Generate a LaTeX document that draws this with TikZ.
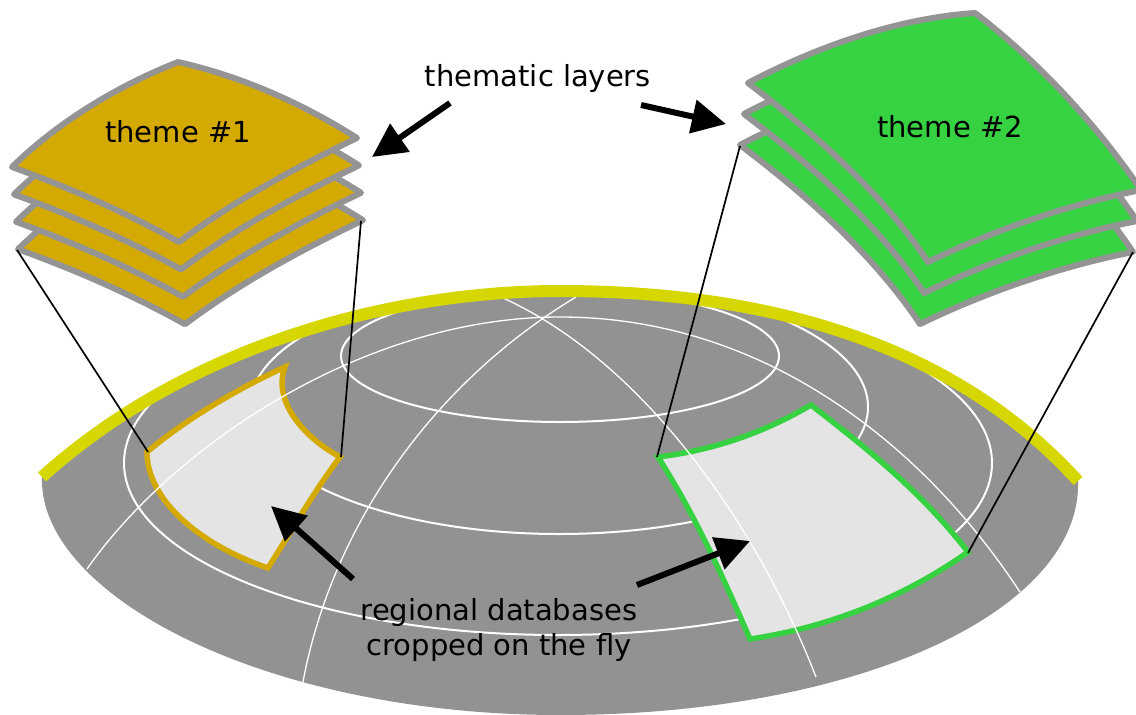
\documentclass[tikz,border=0pt]{standalone}
\usepackage{fontspec}
\setmainfont{DejaVu Sans}
\usetikzlibrary{arrows.meta}
\definecolor{domegrey}{HTML}{929292}
\definecolor{sheetedge}{HTML}{949494}
\definecolor{ochre}{HTML}{D4AA00}
\definecolor{leaf}{HTML}{37D242}
\definecolor{rimyellow}{HTML}{D6D600}
\definecolor{patchfill}{HTML}{E4E4E4}
\newcommand{\rimpath}{(42,477) .. controls (180,352) and (380,291) .. (560,291) .. controls (760,291) and (950,340) .. (1078,481)}
\tikzset{
  x=1pt,y=-1pt,
  sheetbase/.style={draw=sheetedge,line width=6pt,line join=round},
  ringline/.style={draw=white,line width=2pt},
  thinline/.style={draw=white,line width=1.3pt},
  patchbase/.style={fill=patchfill,line width=5.5pt,line join=miter},
  linkline/.style={draw=black,line width=1.7pt},
  bigarrow/.style={draw=black,line width=6pt,-{Triangle[length=34pt,width=33pt]}},
  label/.style={font=\fontsize{29}{35}\selectfont,text=black,inner sep=0pt,align=center}
}
\begin{document}
\begin{tikzpicture}
\useasboundingbox (0,0) rectangle (1136,715);
\clip (0,0) rectangle (1136,715);

% dome
\fill[domegrey] \rimpath .. controls (1082,610) and (860,715) .. (560,715)
  .. controls (265,715) and (38,595) .. (42,477) -- cycle;

% rings, clipped to the dome
\begin{scope}
\clip \rimpath -- (1136,715) -- (0,715) -- cycle;
\draw[ringline] (558,463) ellipse [x radius=434,y radius=172];
\draw[ringline] (559,407) ellipse [x radius=309,y radius=127];
\draw[ringline] (560,356) ellipse [x radius=219,y radius=66];
\end{scope}

% regional patches
\draw[patchbase,draw=ochre] (147,452) .. controls (185,420) and (235,390) .. (285,367)
  .. controls (272,402) and (305,438) .. (340,457)
  .. controls (315,490) and (295,525) .. (268,568)
  .. controls (200,545) and (147,500) .. cycle;
\draw[patchbase,draw=leaf] (658,457) .. controls (715,450) and (765,432) .. (811,405)
  .. controls (865,447) and (920,490) .. (968,552)
  .. controls (900,600) and (825,628) .. (750,639)
  .. controls (722,575) and (695,515) .. cycle;

% thin graticule
\draw[thinline] (87,569) .. controls (170,450) and (360,317) .. (560,317)
  .. controls (760,317) and (920,440) .. (1020,592);
\draw[thinline] (576,297) .. controls (430,385) and (330,530) .. (302,687);
\draw[thinline] (503,298) .. controls (640,360) and (755,520) .. (816,677);

% rim
\draw[rimyellow,line width=12pt] \rimpath;

% theme 1 stack
\foreach \d in {3,2,1,0}{
  \begin{scope}[shift={({2*\d},{27.4*\d})}]
    \draw[sheetbase,fill=ochre] (12,167) .. controls (60,120) and (120,85) .. (178,62)
      .. controls (240,76) and (300,102) .. (357,138)
      .. controls (295,168) and (235,200) .. (179,242)
      .. controls (125,212) and (70,188) .. cycle;
  \end{scope}
}
% theme 2 stack
\foreach \d in {2,1,0}{
  \begin{scope}[shift={({-4*\d},{31*\d})}]
    \draw[sheetbase,fill=leaf] (748,83) .. controls (820,45) and (900,18) .. (975,13)
      .. controls (1030,55) and (1090,115) .. (1141,190)
      .. controls (1065,205) and (990,232) .. (928,262)
      .. controls (880,190) and (810,130) .. cycle;
  \end{scope}
}

% connector ends
\coordinate (s1l) at (17,250);
\coordinate (s1r) at (361,221);
\coordinate (p1l) at (148,452);
\coordinate (p1r) at (341,457);
\coordinate (s2l) at (740,146);
\coordinate (s2r) at (1133,252);
\coordinate (p2l) at (657,457);
\coordinate (p2r) at (968,553);
\draw[linkline] (s1l) -- (p1l);
\draw[linkline] (s1r) -- (p1r);
\draw[linkline] (s2l) -- (p2l);
\draw[linkline] (s2r) -- (p2r);

% labels
\node[label] (t1) at (178,132) {theme \#1};
\node[label] (t2) at (950,127) {theme \#2};
\node[label] (tl) at (538,78) {thematic layers};
\node[label] (rd) at (499,630) {regional databases\\cropped on the fly};

% arrows
\coordinate (a1s) at (450,103);
\coordinate (a1e) at (372,157);
\coordinate (a2s) at (641,105);
\coordinate (a2e) at (726,124);
\coordinate (a3s) at (353,579);
\coordinate (a3e) at (271,506);
\coordinate (a4s) at (637,585);
\coordinate (a4e) at (750,541);
\draw[bigarrow] (a1s) -- (a1e);
\draw[bigarrow] (a2s) -- (a2e);
\draw[bigarrow] (a3s) -- (a3e);
\draw[bigarrow] (a4s) -- (a4e);
\end{tikzpicture}
\end{document}
